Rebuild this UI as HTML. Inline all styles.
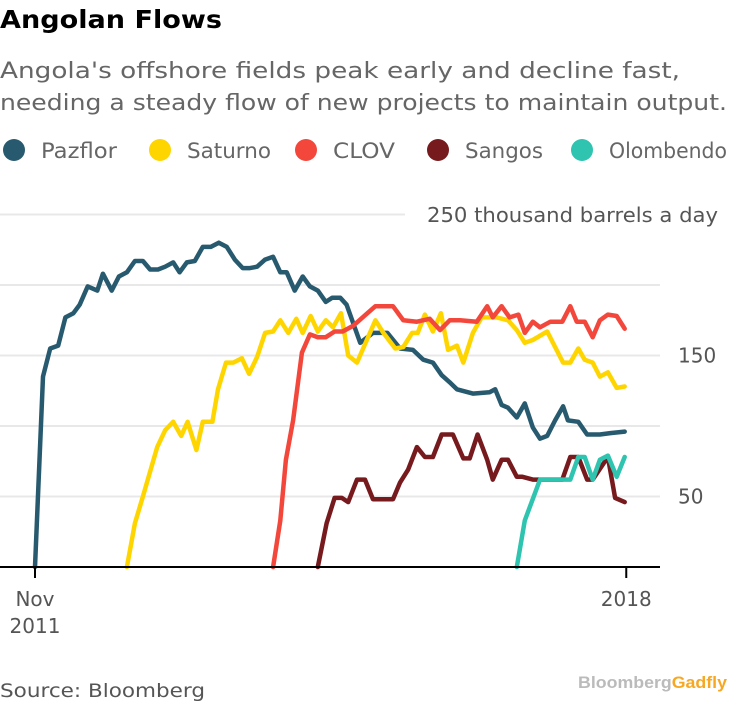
<!DOCTYPE html>
<html><head><meta charset="utf-8"><style>
body{margin:0;background:#fff;width:740px;height:705px;overflow:hidden;font-family:"DejaVu Sans","Liberation Sans",sans-serif}
svg text{font-family:"DejaVu Sans","Liberation Sans",sans-serif}
</style></head><body>
<svg width="740" height="705" viewBox="0 0 740 705">
<text x="0" y="28" font-size="25" font-weight="bold" fill="#000" textLength="222" lengthAdjust="spacingAndGlyphs">Angolan Flows</text>
<text x="0" y="78" font-size="22" fill="#666" textLength="680" lengthAdjust="spacingAndGlyphs">Angola's offshore fields peak early and decline fast,</text>
<text x="0" y="110" font-size="22" fill="#666" textLength="727" lengthAdjust="spacingAndGlyphs">needing a steady flow of new projects to maintain output.</text>
<g id="legend"></g>
<g id="grid"></g>
<g id="series"></g>
<g id="axes"></g>
<text x="0" y="697" font-size="19" fill="#555" textLength="205" lengthAdjust="spacingAndGlyphs">Source: Bloomberg</text>
<text x="727" y="688" font-size="17" font-weight="bold" text-anchor="end" style="font-family:'Liberation Sans',sans-serif" textLength="149" lengthAdjust="spacingAndGlyphs"><tspan fill="#bbb">Bloomberg</tspan><tspan fill="#f7a823">Gadfly</tspan></text>
</svg>
<script>
const NS="http://www.w3.org/2000/svg";
const seriesNames=["Pazflor","Saturno","CLOV","Sangos","Olombendo"];
const seriesColors=["#275a6e","#ffd500","#f4473c","#771a1e","#2ec4b0"];
const pazflorMonths=[0,1,1.9,2.9,3.8,4.8,5.6,6.6,7.8,8.5,9.6,10.5,11.5,12.5,13.5,14.4,15.4,16.3,17.3,18.1,19,20,21,22,23,24,25,26,26.9,27.8,28.8,29.8,30.7,31.5,32.5,33.5,34.4,35.4,36.4,37.2,38.2,39,40.7,42.3,44.1,45.7,47.3,48.6,49.8,50.9,51.9,52.8,54.8,56.9,57.6,58.4,59.2,60.3,61.3,62.3,63.2,64.1,65.1,66.1,66.7,68,69.1,70.7,72,73.8];
const pazflorValues=[0,135,155,157,177,180,186,199,196,208,196,206,209,217,217,211,211,213,216,209,216,217,227,227,230,227,218,212,212,213,218,220,209,209,196,206,199,196,188,191,191,186,159,166,166,155,154,147,145,136,131,126,123,124,126,115,113,106,116,99,91,93,104,114,104,103,94,94,95,96];
const saturnoMonths=[11.5,12.5,13.5,15.3,16.3,17.3,18.3,19.1,20.2,21,22.2,22.9,23.9,24.8,25.9,26.8,27.8,28.8,29.8,30.7,31.7,32.7,33.5,34.5,35.4,36.4,37.3,38.3,39.2,40.3,42.6,43.6,45.1,46.1,47.2,47.9,48.8,49.8,50.8,51.7,52.8,53.6,54.8,55.9,57.8,59.2,60.3,61.3,62.3,64.1,65.1,66.1,67,68,68.8,69.8,70.7,71.7,72.8,73.8];
const saturnoValues=[0,31,50,85,97,103,93,103,83,103,103,126,145,145,148,137,149,166,167,175,166,176,166,178,167,175,170,180,150,145,175,166,155,156,166,166,179,167,180,154,157,145,166,177,177,175,168,159,161,167,156,145,145,155,147,145,135,138,127,128];
const clovMonths=[29.8,30.7,31.4,32.3,33.4,34.4,35.4,36.4,37.5,38.5,39.8,41.6,42.6,44.8,46.1,47.8,49.4,50.7,51.9,53.2,55.3,56.6,57.3,58.4,59.4,60.5,61.3,62.3,63.2,64.5,66,67,67.8,68.8,69.8,70.7,71.7,72.8,73.8];
const clovValues=[0,33,76,104,152,165,163,163,167,167,171,180,185,185,175,174,176,168,175,175,174,185,177,185,177,179,166,174,170,174,174,185,174,174,163,175,179,178,169];
const sangosMonths=[35.4,36.5,37.5,38.4,39.2,40.3,41.3,42.3,44.8,45.7,46.7,47.8,48.8,49.8,50.9,52.3,53.6,54.4,55.4,56.6,57.3,58.4,59.2,60.3,61,62.3,66,67,68,69.1,69.8,71.7,72.6,73.8];
const sangosValues=[0,31,49,49,46,62,62,48,48,60,69,85,78,78,94,94,77,77,94,76,62,76,76,64,64,62,62,78,78,62,62,78,49,46];
const olombendoMonths=[60.3,61.3,63.2,67,68,68.8,69.8,70.7,71.7,72.8,73.8];
const olombendoValues=[0,33,62,62,78,78,62,76,79,64,78];
const yTicks=[50,150];
const gridValues=[50,100,150,200,250];
const xTickMonths=[0,74];
const xTickLabels=[["Nov","2011"],["2018"]];

const X=m=>35+m*7.99;
const Y=v=>567-v*1.41;
function mk(tag,attrs,parent){const e=document.createElementNS(NS,tag);for(const k in attrs)e.setAttribute(k,attrs[k]);parent.appendChild(e);return e;}

const grid=document.getElementById('grid');
gridValues.forEach(v=>{
  const l=mk('line',{x1:0,x2:v===250?405:660,y1:Y(v),y2:Y(v),stroke:'#e8e8e8','stroke-width':2},grid);
  
  
});
const axes=document.getElementById('axes');
const base=mk('line',{x1:0,x2:660,y1:567,y2:567,stroke:'#000','stroke-width':2},axes);


yTicks.forEach(v=>{
  const t=mk('text',{x:678,y:Y(v)+7,'font-size':20,fill:'#555','text-anchor':'start'},axes);
  t.textContent=v;
  
  
});
const unit=mk('text',{x:718,y:222,'font-size':20,fill:'#555','text-anchor':'end',textLength:291,lengthAdjust:'spacingAndGlyphs'},axes);
unit.textContent="250 thousand barrels a day";


xTickMonths.forEach((m,i)=>{
  const tk=mk('line',{x1:X(m),x2:X(m),y1:567,y2:578,stroke:'#000','stroke-width':2},axes);
  
  
  xTickLabels[i].forEach((s,j)=>{
    const t=mk('text',{x:X(m),y:606+j*27,'font-size':20,fill:'#555','text-anchor':'middle'},axes);
    t.textContent=s;
    
    
  });
});
const ser=document.getElementById('series');
const allM=[pazflorMonths,saturnoMonths,clovMonths,sangosMonths,olombendoMonths];
const allV=[pazflorValues,saturnoValues,clovValues,sangosValues,olombendoValues];
allM.forEach((ms,i)=>{
  const pts=ms.map((m,k)=>X(m).toFixed(1)+','+Y(allV[i][k]).toFixed(1)).join(' ');
  const p=mk('polyline',{points:pts,fill:'none',stroke:seriesColors[i],'stroke-width':4.5,'stroke-linejoin':'round','stroke-linecap':'round'},ser);
  
  
});
const legend=document.getElementById('legend');
const lx=[14,160,306,438,582];
const lw=[76,84,62,78,118];
seriesNames.forEach((n,i)=>{
  const c=mk('circle',{cx:lx[i],cy:150,r:11,fill:seriesColors[i]},legend);
  
  
  const t=mk('text',{x:lx[i]+27,y:158,'font-size':21,fill:'#666',textLength:lw[i],lengthAdjust:'spacingAndGlyphs'},legend);
  t.textContent=n;
  
  
});
</script>
</body></html>
